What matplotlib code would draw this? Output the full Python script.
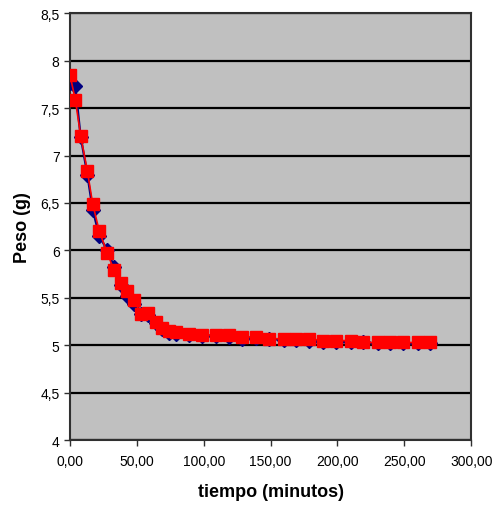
import matplotlib
matplotlib.use('Agg')
import matplotlib.pyplot as plt
from matplotlib.ticker import FuncFormatter, MultipleLocator

# tiempo (min) y peso (g) de las dos muestras
tiempo = [0, 4, 8, 13, 17, 22, 28, 33, 38, 43, 48, 53, 58, 64, 69, 74, 79,
          89, 99, 109, 119, 129, 139, 149, 160, 169, 179, 189, 199, 210,
          219, 230, 239, 249, 260, 269]
peso_a = [7.76, 7.73, 7.20, 6.80, 6.43, 6.15, 6.00, 5.83, 5.64, 5.52, 5.44,
          5.33, 5.32, 5.24, 5.17, 5.13, 5.12, 5.11, 5.10, 5.10, 5.09, 5.07,
          5.08, 5.07, 5.06, 5.06, 5.05, 5.04, 5.04, 5.04, 5.03, 5.02, 5.02,
          5.02, 5.02, 5.02]
peso_b = [7.85, 7.59, 7.21, 6.84, 6.49, 6.20, 5.97, 5.79, 5.66, 5.57, 5.48,
          5.33, 5.34, 5.25, 5.18, 5.15, 5.14, 5.12, 5.11, 5.11, 5.11, 5.09,
          5.09, 5.07, 5.07, 5.07, 5.07, 5.05, 5.05, 5.05, 5.03, 5.03, 5.03,
          5.03, 5.03, 5.03]

plt.rcParams['font.family'] = ['Liberation Sans', 'DejaVu Sans']

fig = plt.figure(figsize=(4.96, 5.06), dpi=100)
ax = fig.add_axes([0.141, 0.128, 0.809, 0.844])
ax.set_facecolor('#c0c0c0')

ax.plot(tiempo, peso_a, color='#000080', linewidth=1.6, marker='D',
        markersize=7, markerfacecolor='#000080', markeredgecolor='#000080', zorder=3)
ax.plot(tiempo, peso_b, color='#ff0000', linewidth=1.2, marker='s',
        markersize=9, markerfacecolor='#ff0000', markeredgecolor='#ff0000', zorder=4)

ax.set_xlim(0, 300)
ax.set_ylim(4, 8.5)
ax.xaxis.set_major_locator(MultipleLocator(50))
ax.yaxis.set_major_locator(MultipleLocator(0.5))
ax.xaxis.set_major_formatter(FuncFormatter(lambda v, p: f'{v:.2f}'.replace('.', ',')))
ax.yaxis.set_major_formatter(FuncFormatter(lambda v, p: f'{v:g}'.replace('.', ',')))

ax.grid(axis='y', color='black', linewidth=1.6)
ax.set_axisbelow(True)
for s in ax.spines.values():
    s.set_color('#303030')
    s.set_linewidth(1.5)

ax.tick_params(direction='out', length=4, width=1, colors='#303030',
               labelsize=10, labelcolor='black')
ax.tick_params(axis='x', pad=6)

ax.set_xlabel('tiempo (minutos)', fontsize=13, fontweight='bold', labelpad=11)
ax.set_ylabel('Peso (g)', fontsize=13, fontweight='bold', labelpad=7)

fig.savefig('out.png', dpi=100)
